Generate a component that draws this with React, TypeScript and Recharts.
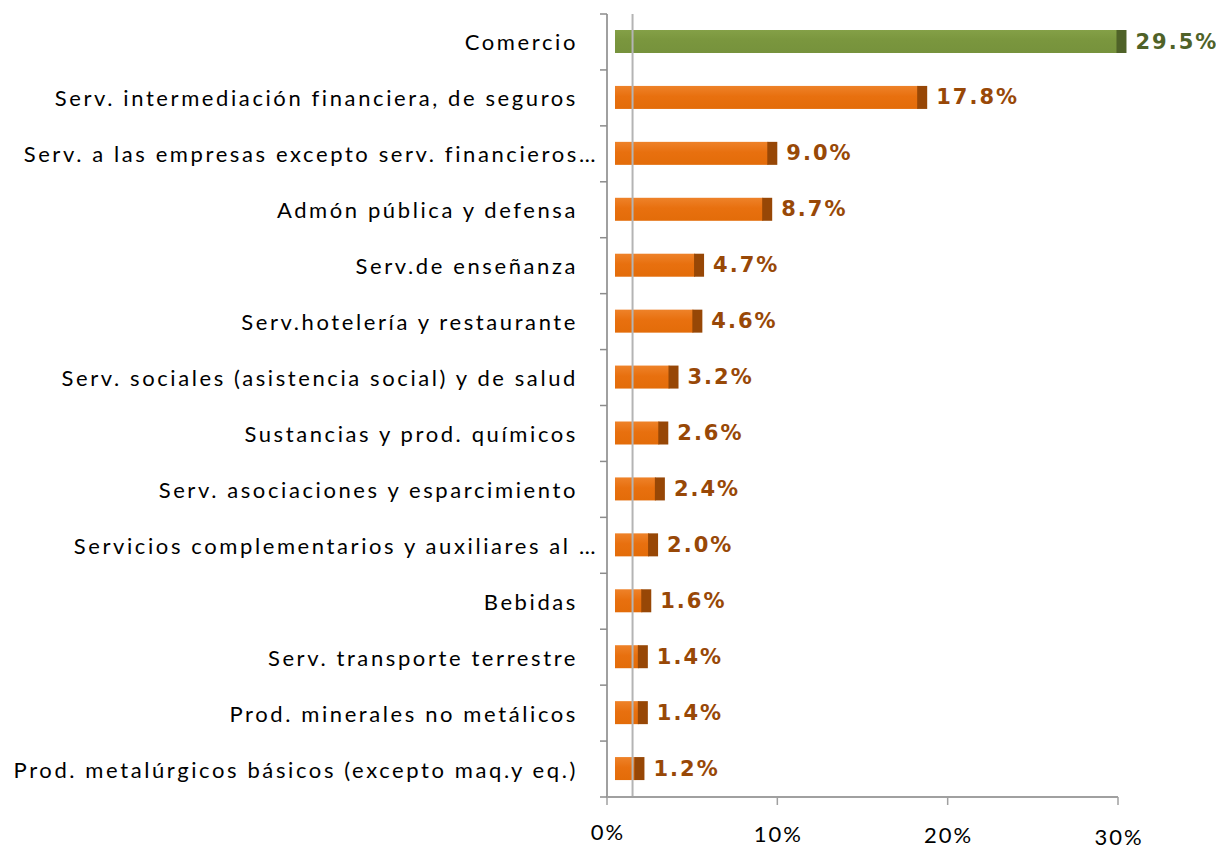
import { BarChart, Bar, XAxis, YAxis, LabelList, ReferenceLine } from "recharts";

const categories = [
  "Comercio",
  "Serv. intermediación financiera, de seguros",
  "Serv. a las empresas excepto serv. financieros…",
  "Admón pública y defensa",
  "Serv.de enseñanza",
  "Serv.hotelería y restaurante",
  "Serv. sociales (asistencia social) y de salud",
  "Sustancias y prod.  químicos",
  "Serv. asociaciones y esparcimiento",
  "Servicios complementarios y auxiliares al …",
  "Bebidas",
  "Serv. transporte terrestre",
  "Prod. minerales no metálicos",
  "Prod. metalúrgicos básicos (excepto maq.y eq.)",
];

const shares = [29.5, 17.8, 9.0, 8.7, 4.7, 4.6, 3.2, 2.6, 2.4, 2.0, 1.6, 1.4, 1.4, 1.2];

const xTicks = [0, 10, 20, 30];

const data = categories.map((name, i) => ({ name, value: shares[i] }));

const W = 1216;
const H = 842;
const AXIS_X = 599;
const TOP = 6;
const BOTTOM = 789;
const STEP = (BOTTOM - TOP) / categories.length;
const LABEL_FONT = "Lato, 'Open Sans', sans-serif";

const BarShape = (props: any) => {
  const { x, y, width, height, index } = props;
  const green = index === 0;
  const ox = x + 8;
  return (
    <g>
      <rect x={ox} y={y} width={width} height={height} fill={green ? "url(#gGreen)" : "url(#gOrange)"} />
      <rect x={ox + width - 1} y={y} width={10} height={height} fill={green ? "#4f6228" : "#974706"} />
    </g>
  );
};

const ValueLabel = (props: any) => {
  const { x, y, width, height, value, index } = props;
  return (
    <text
      x={x + width + 26}
      y={y + height / 2}
      dominantBaseline="central"
      fontFamily="'DejaVu Sans', Verdana, sans-serif"
      fontWeight="bold"
      fontSize={21}
      letterSpacing={2}
      fill={index === 0 ? "#4f6228" : "#984807"}
    >
      {Number(value).toFixed(1)}%
    </text>
  );
};

const CatTick = (props: any) => {
  const { y, payload, index } = props;
  // truncated labels run a little closer to the axis, as in the source
  const truncated = String(payload.value).endsWith("…");
  return (
    <g>
      <text
        x={AXIS_X - (truncated ? 9 : 29)}
        y={y}
        textAnchor="end"
        dominantBaseline="central"
        fontFamily={LABEL_FONT}
        fontSize={22}
        letterSpacing={2.6}
        fill="#000"
      >
        {payload.value}
      </text>
      <line x1={AXIS_X - 7} x2={AXIS_X} y1={y - STEP / 2} y2={y - STEP / 2} stroke="#8c8c8c" strokeWidth={1.5} />
      {index === categories.length - 1 && (
        <line x1={AXIS_X - 7} x2={AXIS_X} y1={y + STEP / 2} y2={y + STEP / 2} stroke="#8c8c8c" strokeWidth={1.5} />
      )}
    </g>
  );
};

const PctTick = (props: any) => {
  const { x, y, payload } = props;
  return (
    <text
      x={x + 1}
      y={y + 33 + payload.value * 0.15}
      textAnchor="middle"
      fontFamily={LABEL_FONT}
      fontSize={22}
      letterSpacing={2}
      fill="#000"
    >
      {payload.value}%
    </text>
  );
};

export default function App() {
  return (
    <div style={{ width: W, height: H }}>
      <BarChart
        width={W}
        height={H}
        data={data}
        layout="vertical"
        margin={{ top: TOP, right: W - AXIS_X - 511, bottom: 0, left: 0 }}
        barSize={23}
      >
        <defs>
          <linearGradient id="gOrange" x1="0" y1="0" x2="0" y2="1">
            <stop offset="0%" stopColor="#ee8229" />
            <stop offset="45%" stopColor="#e8700f" />
            <stop offset="100%" stopColor="#e36c09" />
          </linearGradient>
          <linearGradient id="gGreen" x1="0" y1="0" x2="0" y2="1">
            <stop offset="0%" stopColor="#84a047" />
            <stop offset="45%" stopColor="#7a963e" />
            <stop offset="100%" stopColor="#76923c" />
          </linearGradient>
        </defs>
        <XAxis
          type="number"
          domain={[0, 30]}
          ticks={xTicks}
          height={H - TOP - (BOTTOM - TOP)}
          axisLine={{ stroke: "#a0a0a0", strokeWidth: 2 }}
          tickLine={{ stroke: "#a0a0a0", strokeWidth: 1.5 }}
          tickSize={8}
          tickMargin={2}
          tick={<PctTick />}
          interval={0}
        />
        <YAxis
          type="category"
          dataKey="name"
          width={AXIS_X}
          axisLine={{ stroke: "#a0a0a0", strokeWidth: 2 }}
          tickLine={false}
          tick={<CatTick />}
          interval={0}
        />
        <ReferenceLine x={1.5} stroke="#b4b4b4" strokeWidth={2} />
        <Bar dataKey="value" shape={<BarShape />} isAnimationActive={false}>
          <LabelList dataKey="value" content={<ValueLabel />} />
        </Bar>
      </BarChart>
    </div>
  );
}
